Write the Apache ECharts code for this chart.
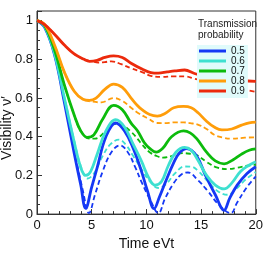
<!DOCTYPE html>
<html><head><meta charset="utf-8">
<script src="https://cdn.jsdelivr.net/npm/echarts@6/dist/echarts.min.js"></script>
<style>html,body{margin:0;padding:0;background:#fff}#c{width:266px;height:256px}</style>
</head><body><div id="c"></div>
<script>
const probabilities = ['0.5', '0.6', '0.7', '0.8', '0.9'];
const xTicks = [0, 5, 10, 15, 20];
const yTicks = [0, 0.2, 0.4, 0.6, 0.8, 1];

// [time, visibility] pairs
const p05Solid = [[0,1],[0.7,0.965],[1.6,0.824],[2.5,0.578],[3.4,0.315],[4.0,0.15],[4.45,0.03],[5.0,0.14],[5.5,0.24],[6.3,0.40],[7.2,0.471],[8.0,0.43],[8.8,0.34],[9.5,0.23],[10.1,0.12],[10.7,0.028],[11.2,0.09],[11.7,0.16],[12.5,0.266],[13.0,0.315],[13.7,0.338],[14.6,0.30],[15.4,0.20],[16.3,0.10],[17.1,0.02],[17.6,0.08],[18.3,0.15],[19.2,0.21],[20,0.245]];
const p05Dashed = [[0,1],[0.7,0.965],[1.6,0.826],[2.5,0.585],[3.4,0.33],[4.2,0.12],[4.75,0.005],[5.3,0.10],[6.0,0.22],[6.8,0.32],[7.6,0.355],[8.3,0.32],[9.0,0.24],[9.55,0.167],[10.3,0.08],[11.1,0.005],[11.7,0.08],[12.5,0.16],[13.2,0.205],[13.8,0.215],[14.7,0.176],[15.6,0.12],[16.6,0.05],[17.7,0.005],[18.3,0.06],[19.2,0.14],[20,0.195]];
const p06Solid = [[0,1],[0.7,0.97],[1.6,0.83],[2.5,0.60],[3.4,0.373],[4.0,0.24],[4.45,0.20],[4.9,0.22],[5.5,0.31],[6.3,0.43],[7.2,0.488],[8.0,0.45],[8.8,0.36],[9.55,0.274],[10.2,0.19],[10.8,0.15],[11.4,0.17],[12.0,0.25],[12.7,0.32],[13.5,0.345],[14.1,0.33],[14.7,0.28],[15.5,0.20],[16.3,0.15],[17.1,0.13],[17.8,0.16],[18.6,0.22],[19.3,0.25],[20,0.271]];
const p06Dashed = [[0,1],[0.7,0.97],[1.6,0.83],[2.5,0.605],[3.4,0.38],[4.0,0.25],[4.64,0.184],[5.2,0.21],[6.0,0.30],[6.7,0.36],[7.5,0.385],[8.1,0.36],[8.8,0.30],[9.55,0.233],[10.3,0.17],[11.1,0.135],[11.8,0.155],[12.6,0.21],[13.5,0.246],[14.1,0.245],[14.7,0.225],[15.6,0.17],[16.5,0.12],[17.4,0.10],[18.2,0.13],[19.1,0.18],[20,0.217]];
const p07Solid = [[0,1],[0.7,0.975],[1.6,0.849],[2.5,0.668],[3.4,0.512],[4.0,0.43],[4.6,0.397],[5.2,0.41],[6.0,0.49],[7.0,0.562],[7.8,0.54],[8.6,0.47],[9.2,0.43],[9.8,0.37],[10.3,0.34],[10.9,0.32],[11.5,0.34],[12.3,0.40],[13.4,0.43],[14.0,0.42],[14.6,0.39],[15.5,0.32],[16.3,0.275],[17.1,0.26],[17.9,0.28],[18.7,0.31],[19.4,0.33],[20,0.337]];
const p07Dashed = [[0,1],[0.7,0.975],[1.6,0.849],[2.5,0.668],[3.4,0.512],[4.0,0.43],[4.8,0.39],[5.3,0.39],[6.2,0.424],[7.1,0.466],[7.8,0.46],[8.66,0.422],[9.2,0.389],[9.6,0.36],[10.3,0.32],[11.0,0.299],[11.5,0.292],[12.3,0.30],[13.3,0.315],[14.0,0.312],[14.6,0.305],[15.5,0.27],[16.5,0.24],[17.5,0.233],[18.3,0.24],[19.2,0.25],[20,0.255]];
const p08Solid = [[0,1],[0.7,0.98],[1.6,0.874],[2.5,0.734],[3.4,0.635],[4.2,0.594],[4.8,0.588],[5.4,0.60],[6.2,0.645],[7.0,0.672],[7.8,0.655],[8.6,0.60],[9.2,0.56],[9.6,0.54],[10.3,0.515],[11.0,0.507],[11.7,0.52],[12.5,0.55],[13.4,0.557],[14.1,0.55],[14.7,0.525],[15.5,0.48],[16.2,0.45],[16.9,0.435],[17.8,0.44],[18.7,0.46],[19.4,0.472],[20,0.475]];
const p08Dashed = [[0,1],[0.7,0.98],[1.6,0.874],[2.5,0.735],[3.4,0.636],[4.2,0.594],[5.1,0.581],[5.9,0.578],[7.0,0.60],[7.8,0.585],[8.6,0.55],[9.2,0.524],[10.1,0.496],[11.0,0.471],[11.7,0.47],[12.5,0.474],[13.4,0.474],[14.0,0.47],[14.7,0.463],[15.5,0.44],[16.2,0.41],[16.9,0.397],[17.8,0.39],[19,0.395],[20,0.397]];
const p09Solid = [[0,1],[0.7,0.98],[1.6,0.93],[2.5,0.874],[3.4,0.828],[4.3,0.80],[4.8,0.79],[5.5,0.795],[6.2,0.81],[7.0,0.818],[7.8,0.81],[8.6,0.78],[9.6,0.75],[10.4,0.732],[11.1,0.729],[11.9,0.735],[12.6,0.74],[13.5,0.745],[14.4,0.727],[15.3,0.715],[16.2,0.705],[17.2,0.695],[18.5,0.687],[19.3,0.688],[20,0.686]];
const p09Dashed = [[0,1],[0.7,0.98],[1.6,0.93],[2.5,0.874],[3.4,0.828],[4.3,0.80],[5.0,0.79],[5.6,0.783],[6.2,0.786],[6.8,0.79],[7.7,0.775],[8.6,0.754],[9.6,0.734],[10.4,0.715],[11.4,0.709],[12.5,0.712],[13.5,0.712],[14.4,0.70],[15.5,0.685],[16.5,0.668],[17.3,0.658],[18.1,0.652],[19,0.643],[20,0.632]];

const solidData = [p05Solid, p06Solid, p07Solid, p08Solid, p09Solid];
const dashedData = [p05Dashed, p06Dashed, p07Dashed, p08Dashed, p09Dashed];
const colors = ['#1538f5', '#3ee0d0', '#0cbb0c', '#ff9d0a', '#ec2a0c'];

const series = [];
probabilities.forEach((p, i) => {
  series.push({
    name: p + ' dashed', type: 'line', data: dashedData[i], showSymbol: false, symbol: 'none',
    smooth: 0.4, lineStyle: { color: colors[i], width: 1.8, type: [5, 3] }, itemStyle: { color: colors[i] }, z: 2
  });
});
probabilities.forEach((p, i) => {
  series.push({
    name: p, type: 'line', data: solidData[i], showSymbol: false, symbol: 'none',
    smooth: 0.4, lineStyle: { color: colors[i], width: 2.8 }, itemStyle: { color: colors[i] }, z: 3
  });
});

const font = 'Liberation Sans, Arial, Helvetica, sans-serif';
const chart = echarts.init(document.getElementById('c'), null, { renderer: 'canvas' });
chart.setOption({
  animation: false,
  backgroundColor: '#fff',
  textStyle: { fontFamily: font },
  grid: { left: 37, right: 5, top: 11, bottom: 32, show: true, borderColor: '#333', borderWidth: 1, backgroundColor: 'transparent' },
  xAxis: {
    type: 'value', min: xTicks[0], max: xTicks[xTicks.length - 1], interval: 5,
    name: 'Time eVt', nameLocation: 'middle', nameGap: 14,
    nameTextStyle: { fontSize: 14, color: '#111', fontFamily: font, verticalAlign: 'top' },
    axisLine: { show: true, lineStyle: { color: '#333', width: 1 } },
    axisTick: { show: true, inside: true, length: 5, lineStyle: { color: '#333' } },
    minorTick: { show: true, splitNumber: 5, length: 3, lineStyle: { color: '#333' } },
    axisLabel: { fontSize: 13, color: '#111', margin: 5, fontFamily: font },
    splitLine: { show: false }
  },
  yAxis: [{
    type: 'value', min: 0, max: 1.05, interval: 0.2,
    axisLine: { show: true, lineStyle: { color: '#333', width: 1 } },
    axisTick: { show: true, inside: true, length: 5, lineStyle: { color: '#333' } },
    axisLabel: { fontSize: 13, color: '#111', margin: 4, fontFamily: font,
      formatter: v => { const hit = yTicks.find(t => Math.abs(t - v) < 1e-6); return hit === undefined ? '' : String(hit); } },
    splitLine: { show: false }
  }, {
    type: 'value', min: 0, max: 1.05, interval: 0.05, position: 'left',
    axisLine: { show: false },
    axisTick: { show: true, inside: true, length: 3, lineStyle: { color: '#333' } },
    axisLabel: { show: false }, splitLine: { show: false }
  }],
  legend: {
    data: probabilities, orient: 'vertical', left: 197, top: 45,
    padding: [1, 3, 2, 2], itemGap: 0, itemWidth: 27, itemHeight: 3, icon: 'rect',
    backgroundColor: '#e0fbfb',
    textStyle: { fontSize: 10, lineHeight: 9, color: '#111', fontFamily: font, padding: 0 }
  },
  graphic: [
    { type: 'text', left: 198, top: 19, style: { text: 'Transmission\nprobability', fontSize: 10, lineHeight: 11, fill: '#222', fontFamily: font } },
    { type: 'text', x: 7.5, y: 128, rotation: Math.PI / 2, style: { text: 'Visibility ν′', fontSize: 14, fill: '#111', fontFamily: font, align: 'center', verticalAlign: 'middle' } }
  ],
  series: series
});
</script></body></html>
